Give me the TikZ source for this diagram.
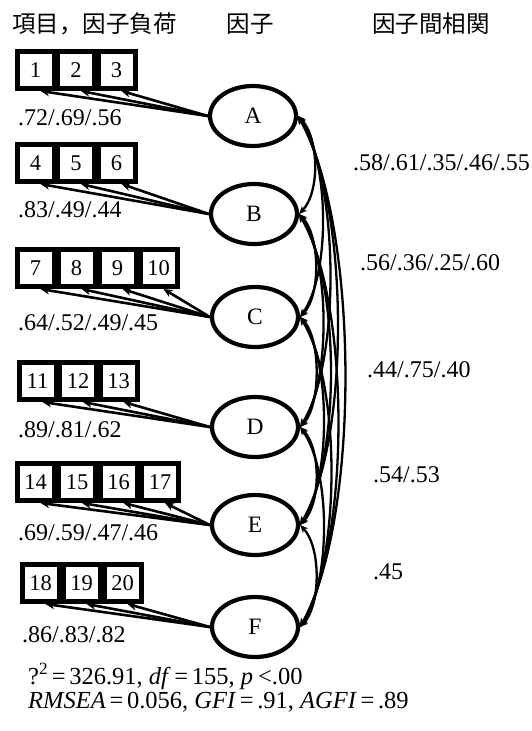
\documentclass[tikz,border=0pt]{standalone}
\usepackage{fontspec}
\setmainfont{Liberation Serif}
\newfontfamily\cjk{Noto Sans CJK JP}
\usetikzlibrary{arrows.meta,shapes.geometric}
\begin{document}
\begin{tikzpicture}[x=1pt,y=-1pt,
  ibox/.style={draw, fill=white, line width=5pt, minimum width=37pt, minimum height=37pt, inner sep=0pt, font=\fontsize{22.5}{22.5}\selectfont},
  factor/.style={draw, ellipse, line width=4.2pt, minimum width=86pt, minimum height=60pt, inner sep=0pt, font=\fontsize{23.5}{23.5}\selectfont},
  load/.style={line width=2.6pt, -{Stealth[length=9pt,width=8pt]}},
  corr/.style={line width=2.3pt, {Stealth[length=8pt,width=7pt]}-{Stealth[length=8pt,width=7pt]}},
  hdr/.style={font=\cjk\fontsize{23.5}{23.5}\selectfont, inner sep=0pt},
  num/.style={font=\fontsize{24}{24}\selectfont, inner sep=0pt, anchor=west},
  stat/.style={font=\fontsize{24.5}{24.5}\selectfont, inner sep=0pt, anchor=base west}]
\useasboundingbox (0,0) rectangle (532,731);

% headers
\node[hdr] (h1) at (94.5,24) {項目，因子負荷};
\node[hdr] (h2) at (250,24) {因子};
\node[hdr] (h3) at (431,24) {因子間相関};

% factors
\node[factor] (A) at (253,116) {A};
\node[factor] (B) at (254,214) {B};
\node[factor] (C) at (255,317) {C};
\node[factor] (D) at (255,427) {D};
\node[factor] (E) at (255,525) {E};
\node[factor] (F) at (255,627) {F};

% item boxes
\foreach \n [count=\k] in {1,2,3} \node[ibox] (a\k) at ({35.5+40.5*(\k-1)},70) {\n};
\foreach \n [count=\k] in {4,5,6} \node[ibox] (b\k) at ({35.5+40.5*(\k-1)},163) {\n};
\foreach \n [count=\k] in {7,8,9,10} \node[ibox] (c\k) at ({35.5+41*(\k-1)},268) {\n};
\foreach \n [count=\k] in {11,12,13} \node[ibox] (d\k) at ({37.5+40.5*(\k-1)},381) {\n};
\foreach \n [count=\k] in {14,15,16,17} \node[ibox] (e\k) at ({35.5+41.5*(\k-1)},482) {\n};
\foreach \n [count=\k] in {18,19,20} \node[ibox] (f\k) at ({40.5+41*(\k-1)},583) {\n};

% loadings
\foreach \k in {1,2,3} \draw[load] (A.west) -- ([xshift=5pt]a\k.south);
\foreach \k in {1,2,3} \draw[load] (B.west) -- ([xshift=5pt]b\k.south);
\foreach \k in {1,2,3,4} \draw[load] (C.west) -- ([xshift=5pt]c\k.south);
\foreach \k in {1,2,3} \draw[load] (D.west) -- ([xshift=5pt]d\k.south);
\foreach \k in {1,2,3,4} \draw[load] (E.west) -- ([xshift=5pt]e\k.south);
\foreach \k in {1,2,3} \draw[load] (F.west) -- ([xshift=5pt]f\k.south);

% loading labels
\node[num] (la) at (18,118) {.72/.69/.56};
\node[num] (lb) at (18,210) {.83/.49/.44};
\node[num] (lc) at (18,323) {.64/.52/.49/.45};
\node[num] (ld) at (18,430) {.89/.81/.62};
\node[num] (le) at (18,533) {.69/.59/.47/.46};
\node[num] (lf) at (22,635) {.86/.83/.82};

% correlations
\foreach \a/\b/\k in {A/B/1,B/C/1,C/D/1,D/E/1,E/F/1,A/C/2,B/D/2,C/E/2,D/F/2,A/D/3,B/E/3,C/F/3,A/E/4,B/F/4,A/F/5}
  \draw[corr] (\a.east) .. controls +({11+10*\k},{22*\k}) and +({11+10*\k},{-22*\k}) .. (\b.east);

% correlation labels
\node[num] (r1) at (353,163) {.58/.61/.35/.46/.55};
\node[num] (r2) at (360,263) {.56/.36/.25/.60};
\node[num] (r3) at (367,370) {.44/.75/.40};
\node[num] (r4) at (373,475) {.54/.53};
\node[num] (r5) at (373,572) {.45};

% fit statistics
\node[stat] (s1) at (28,684) {?\textsuperscript{2}\hspace{0.15em}=\hspace{0.15em}326.91, \textit{df}\hspace{0.15em}=\hspace{0.15em}155, \textit{p}\hspace{0.2em}<.00};
\node[stat] (s2) at (28,708) {\textit{RMSEA}\hspace{0.15em}=\hspace{0.15em}0.056, \textit{GFI}\hspace{0.15em}=\hspace{0.15em}.91, \textit{AGFI}\hspace{0.15em}=\hspace{0.15em}.89};
\end{tikzpicture}
\end{document}
